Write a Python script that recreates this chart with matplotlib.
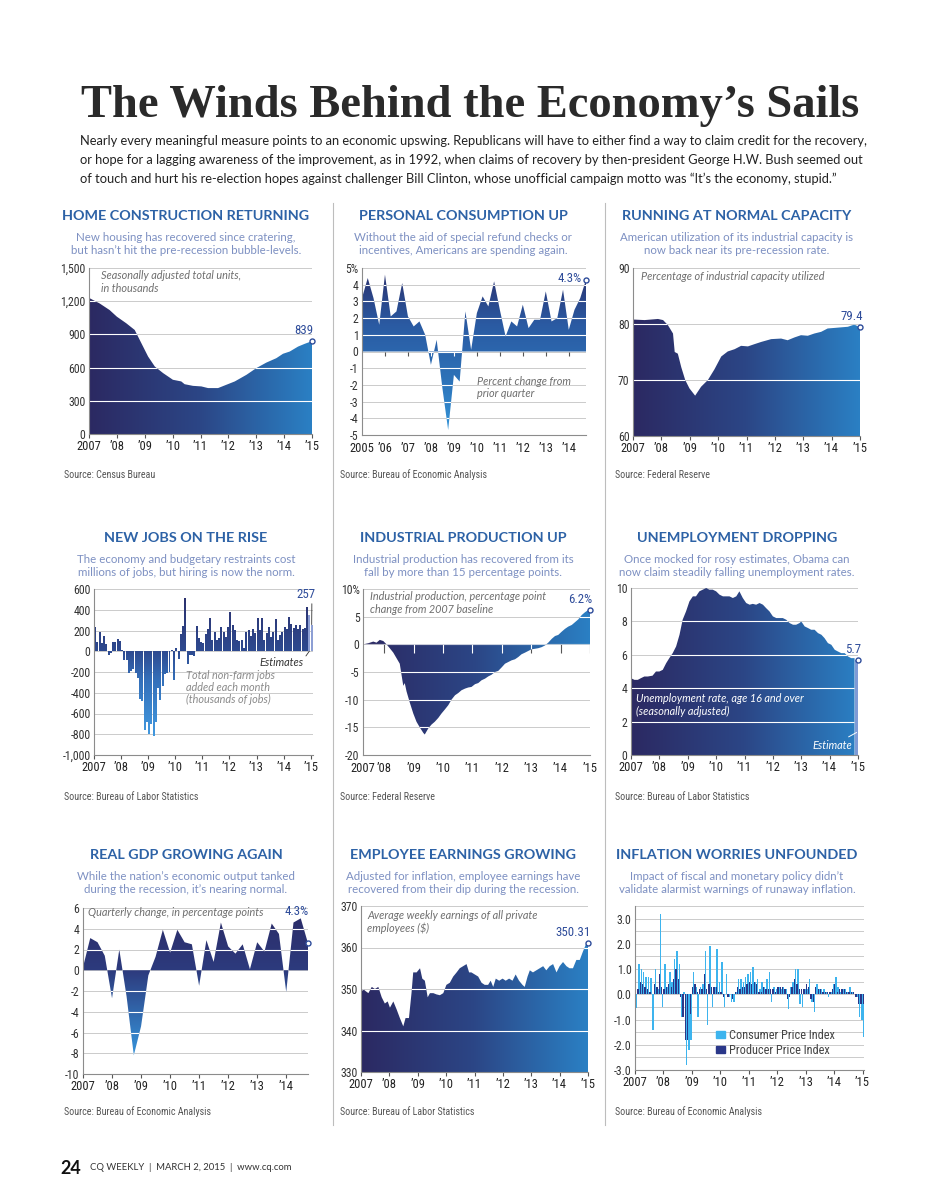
import numpy as np
import matplotlib
matplotlib.use("Agg")
import matplotlib.pyplot as plt
from matplotlib.colors import LinearSegmentedColormap
from matplotlib.path import Path
from matplotlib.lines import Line2D
from matplotlib.patches import Patch
from matplotlib import font_manager

# ---------------- data ----------------
year_ticks = [2007, 2008, 2009, 2010, 2011, 2012, 2013, 2014, 2015]
year_labels = ['2007', '\u201908', '\u201909', '\u201910', '\u201911', '\u201912', '\u201913', '\u201914', '\u201915']

# home construction (thousands of units)
home_years = [2007.00, 2007.38, 2007.74, 2008.00, 2008.34, 2008.64, 2008.88, 2009.12, 2009.36, 2009.66,
              2010.01, 2010.31, 2010.43, 2010.73, 2011.03, 2011.27, 2011.63, 2011.93, 2012.23, 2012.65,
              2013.00, 2013.36, 2013.72, 2013.96, 2014.20, 2014.50, 2014.74, 2015.00]
home_units = [1230, 1180, 1120, 1060, 1000, 940, 820, 700, 610, 550,
              490, 475, 450, 435, 430, 415, 415, 445, 475, 535,
              595, 645, 685, 725, 745, 790, 815, 839]

# personal consumption, quarterly % change 2005Q1..2014Q4
cons_years = [2005, 2006, 2007, 2008, 2009, 2010, 2011, 2012, 2013, 2014]
cons_labels = ['2005', '\u201906', '\u201907', '\u201908', '\u201909', '\u201910', '\u201911', '\u201912', '\u201913', '\u201914']
cons_change = [3.2, 4.4, 3.2, 1.6, 4.6, 2.1, 2.4, 4.1, 2.1, 1.5, 1.8, 1.0, -0.8, 0.7, -2.2, -4.7,
               -1.4, -1.8, 2.4, 0.1, 2.3, 3.3, 2.7, 4.2, 2.5, 0.9, 1.8, 1.5, 2.8, 1.4, 1.9, 1.9,
               3.6, 1.8, 2.0, 3.7, 1.3, 2.5, 3.2, 4.3]

# capacity utilization (%)
cap_years = [2007.00, 2007.41, 2007.88, 2008.06, 2008.23, 2008.41, 2008.47, 2008.58, 2008.70, 2008.84,
             2008.99, 2009.19, 2009.40, 2009.64, 2009.87, 2010.11, 2010.34, 2010.58, 2010.81, 2011.05,
             2011.28, 2011.52, 2011.87, 2012.22, 2012.45, 2012.69, 2012.92, 2013.16, 2013.39, 2013.63,
             2013.86, 2014.10, 2014.33, 2014.57, 2014.80, 2015.00]
cap_util = [80.8, 80.7, 80.9, 80.7, 79.8, 78.3, 75.0, 74.7, 72.3, 70.0,
            68.5, 67.2, 68.8, 70.0, 71.9, 74.2, 75.1, 75.5, 76.1, 76.0,
            76.4, 76.8, 77.3, 77.4, 77.1, 77.6, 78.0, 77.9, 78.3, 78.6,
            79.2, 79.3, 79.4, 79.5, 79.9, 79.4]

# non-farm payrolls, monthly Jan 2007 .. Jan 2015 (thousands)
jobs_added = [238, 89, 190, 79, 146, 73, -32, -16, 86, 86, 117, 95,
              15, -86, -86, -206, -190, -175, -206, -260, -460, -476, -762, -683,
              -794, -698, -819, -683, -350, -466, -333, -222, -206, -197, 10, -280,
              30, -70, 165, 248, 517, -127, -38, -32, -41, 248, 127, 89,
              79, 165, 213, 324, 105, 190, 111, 127, 229, 190, 137, 229,
              381, 254, 206, 111, 95, 111, 32, 181, 206, 143, 216, 175,
              317, 206, 324, 111, 175, 229, 133, 190, 311, 111, 159, 190,
              238, 213, 330, 263, 222, 254, 216, 254, 216, 222, 429, 349,
              257]
jobs_estimates = 2

# industrial production, change from 2007 baseline
ip_years = [2007.29, 2007.46, 2007.63, 2007.74, 2007.85, 2007.97,
            2008.08, 2008.19, 2008.31, 2008.42, 2008.53, 2008.65, 2008.70, 2008.76, 2008.87, 2008.99,
            2009.10, 2009.21, 2009.33, 2009.38, 2009.50, 2009.61, 2009.72, 2009.84, 2009.95,
            2010.06, 2010.18, 2010.29, 2010.41, 2010.52, 2010.63, 2010.75, 2010.86, 2010.97,
            2011.09, 2011.20, 2011.31, 2011.43, 2011.54, 2011.65, 2011.77, 2011.88, 2011.99,
            2012.11, 2012.22, 2012.33, 2012.45, 2012.56, 2012.67, 2012.79, 2012.90,
            2013.01, 2013.13, 2013.24, 2013.36, 2013.47, 2013.58, 2013.70, 2013.81, 2013.92,
            2014.04, 2014.15, 2014.26, 2014.38, 2014.49, 2014.60, 2014.72, 2014.83, 2014.94, 2015.00]
ip_change = [0.0, 0.2, 0.5, 0.3, 0.8, 0.6,
             0.0, -0.7, -1.5, -2.5, -3.5, -7.5, -7.0, -8.5, -10.5, -12.5,
             -14.0, -15.0, -16.0, -16.3, -15.2, -14.5, -14.0, -13.3, -12.5,
             -11.8, -11.0, -10.0, -9.2, -8.8, -8.3, -8.0, -7.8, -7.7,
             -7.2, -7.0, -6.5, -6.2, -5.8, -5.5, -5.0, -4.8, -4.2,
             -3.5, -3.2, -2.9, -2.7, -2.3, -1.8, -1.5, -1.2,
             -0.9, -0.8, -0.7, -0.5, -0.2, 0.3, 1.0, 1.5, 1.7,
             2.3, 2.8, 3.2, 3.5, 4.0, 4.5, 5.3, 5.8, 6.2, 6.2]
ip_start = 2007.28

# unemployment rate (%)
unemp_years = [2007.00, 2007.12, 2007.24, 2007.35, 2007.47, 2007.59, 2007.76, 2007.88,
               2008.00, 2008.12, 2008.24, 2008.35, 2008.47, 2008.59, 2008.71, 2008.82, 2008.94,
               2009.06, 2009.18, 2009.29, 2009.41, 2009.53, 2009.65, 2009.76, 2009.88,
               2010.00, 2010.12, 2010.24, 2010.35, 2010.47, 2010.59, 2010.71, 2010.82, 2010.94,
               2011.06, 2011.18, 2011.29, 2011.41, 2011.53, 2011.65, 2011.76, 2011.88,
               2012.00, 2012.12, 2012.24, 2012.35, 2012.47, 2012.59, 2012.71, 2012.82, 2012.94,
               2013.00, 2013.12, 2013.24, 2013.35, 2013.47, 2013.59, 2013.71, 2013.82, 2013.94,
               2014.06, 2014.18, 2014.29, 2014.41, 2014.53, 2014.65, 2014.76, 2014.88]
unemp_rate = [4.6, 4.5, 4.5, 4.6, 4.7, 4.7, 4.75, 5.0,
              5.0, 5.1, 5.5, 5.8, 6.1, 6.5, 7.2, 8.1, 8.6,
              9.2, 9.5, 9.5, 9.8, 9.9, 10.0, 9.9, 9.9,
              9.8, 9.6, 9.5, 9.5, 9.5, 9.4, 9.5, 9.8, 9.4,
              9.1, 9.0, 9.05, 9.0, 9.1, 9.0, 8.8, 8.6,
              8.3, 8.2, 8.2, 8.2, 8.1, 7.9, 7.8, 7.8, 7.9,
              8.0, 7.7, 7.6, 7.5, 7.5, 7.3, 7.2, 7.0, 6.7,
              6.6, 6.3, 6.2, 6.1, 6.1, 5.9, 5.8, 5.8]
unemp_est_year = 2015.0
unemp_est_rate = 5.7

# real GDP, quarterly change 2007Q1..2014Q4
gdp_labels = year_labels[:-1]
gdp_change = [0.3, 3.1, 2.7, 1.4, -2.7, 2.0, -2.5, -8.2, -5.4, -0.5, 1.3, 3.9, 1.7, 3.9, 2.7, 2.5,
              -1.5, 2.9, 0.8, 4.6, 2.3, 1.6, 2.5, 0.1, 2.7, 1.8, 4.5, 3.5, -2.1, 4.6, 5.0, 2.6]

# average weekly earnings ($)
earn_years = [2007.00, 2007.08, 2007.16, 2007.26, 2007.38, 2007.49, 2007.61, 2007.73, 2007.84, 2007.94,
              2008.02, 2008.14, 2008.26, 2008.37, 2008.49, 2008.57, 2008.69, 2008.78, 2008.84, 2008.96,
              2009.08, 2009.16, 2009.25, 2009.35, 2009.43, 2009.55, 2009.66, 2009.78, 2009.90,
              2010.01, 2010.13, 2010.25, 2010.37, 2010.48, 2010.60, 2010.72, 2010.81, 2010.89,
              2011.01, 2011.13, 2011.25, 2011.36, 2011.48, 2011.57, 2011.66, 2011.75, 2011.87, 2011.99,
              2012.10, 2012.22, 2012.34, 2012.45, 2012.57, 2012.69, 2012.77, 2012.87, 2012.95,
              2013.06, 2013.18, 2013.30, 2013.42, 2013.53, 2013.65, 2013.77, 2013.89,
              2014.00, 2014.12, 2014.24, 2014.35, 2014.47, 2014.59, 2014.71, 2014.82, 2014.94, 2015.00]
earn_weekly = [349, 350, 349.5, 349, 350.5, 350, 350.5, 348, 346.5, 347,
               345.5, 347, 345, 343, 341, 343, 343, 349, 354, 354,
               355, 352.5, 352, 348, 349, 349, 348.7, 348.5, 349,
               351, 351.5, 353, 354, 355, 355.5, 356, 354, 354,
               353.5, 353, 351.5, 351, 351, 352, 350.5, 352.5, 352, 352.5,
               352, 352.5, 352, 353.5, 352, 351, 350.5, 353, 354.5,
               354, 354.5, 355, 355.5, 354.5, 355.5, 356, 354,
               355.5, 356.5, 355.5, 355, 355, 357, 357, 359, 361, 361]

# inflation, monthly change Jan 2007 .. Jan 2015
infl_series = ['Consumer Price Index', 'Producer Price Index']
cpi_change = [-0.55, 1.2, 1.0, 0.9, 0.7, 0.7, 0.65, -1.4, 1.0, 0.2, 3.2, -0.5,
              1.2, 0.3, 0.9, 0.5, 1.4, 1.7, 1.2, -0.9, 0.1, -2.8, -2.2, -1.8,
              0.9, 0.3, -0.9, 0.3, 0.4, 1.7, -1.2, 1.9, -0.5, 0.3, 1.8, 0.5,
              1.3, -0.5, 0.8, -0.1, -0.3, -0.3, 0.1, 0.6, 0.6, 0.5, 0.7, 0.8,
              0.9, 1.1, 0.5, 0.6, 0.2, 0.5, 0.3, 0.6, 0.9, -0.3, 0.3, 0.2,
              0.3, 0.2, 0.3, 0.2, -0.6, 0.3, 0.5, 1.0, 1.0, -0.4, -0.5, 0.2,
              0.2, 0.6, -0.3, -0.7, 0.4, 0.2, 0.2, 0.2, 0.1, -0.1, 0.1, 0.4,
              0.7, 0.3, 0.1, 0.2, 0.2, 0.1, 0.3, 0.1, 0.0, -0.1, -0.9, -1.0,
              -1.7]
ppi_change = [0.4, 0.2, 0.5, 0.4, 0.3, 0.2, 0.1, 0.0, 0.4, 0.3, 0.8, 0.3,
              0.2, 0.3, 0.4, 0.3, 0.6, 1.0, 0.6, -0.1, -0.9, -1.8, -1.8, -0.8,
              0.3, 0.4, 0.1, 0.2, 0.2, 0.8, 0.2, 0.4, 0.3, 0.3, 0.3, 0.1,
              0.1, -0.1, 0.0, -0.1, 0.0, -0.2, 0.1, 0.3, 0.2, 0.3, 0.3, 0.4,
              0.5, 0.4, 0.5, 0.4, 0.1, 0.1, 0.3, 0.2, 0.2, 0.2, 0.2, 0.1,
              0.3, 0.3, 0.3, 0.2, -0.2, -0.1, 0.3, 0.6, 0.4, 0.2, 0.2, 0.2,
              0.4, 0.3, -0.2, -0.3, 0.3, 0.2, 0.2, 0.1, 0.1, 0.1, 0.1, 0.2,
              0.4, 0.1, 0.2, 0.2, 0.2, 0.1, 0.1, 0.1, 0.1, -0.1, -0.4, -0.4,
              -0.4]

intro_lines = [
    "Nearly every meaningful measure points to an economic upswing. Republicans will have to either find a way to claim credit for the recovery,",
    "or hope for a lagging awareness of the improvement, as in 1992, when claims of recovery by then-president George H.W. Bush seemed out",
    "of touch and hurt his re-election hopes against challenger Bill Clinton, whose unofficial campaign motto was \u201cIt\u2019s the economy, stupid.\u201d",
]

# ---------------- style ----------------
SANS = ['Lato', 'DejaVu Sans']
installed = {f.name for f in font_manager.fontManager.ttflist}
NARROW = [f for f in ['Roboto Condensed', 'Liberation Sans Narrow', 'Arial Narrow'] if f in installed]
NARROW += ['Liberation Sans', 'DejaVu Sans']
SERIF = ['Liberation Serif', 'DejaVu Serif']
TITLE_BLUE = '#2d62a6'
SUB_BLUE = '#7d90c2'
VAL_BLUE = '#2e4c9a'
GRID = '#cbcbcb'
NOTE = '#6e6e6e'
H_STOPS = ['#2b2962', '#2c4686', '#2a80c4']

W, H = 927, 1200
fig = plt.figure(figsize=(W / 100, H / 100), dpi=100)
fig.patch.set_facecolor('white')
renderer = fig.canvas.get_renderer()


def px_axes(x0, y0, x1, y1):
    return fig.add_axes([x0 / W, 1 - y1 / H, (x1 - x0) / W, (y1 - y0) / H])


def ftext(x, y, s, **kw):
    return fig.text(x / W, 1 - y / H, s, **kw)


def fit(t, width):
    w = t.get_window_extent(renderer).width
    t.set_fontsize(t.get_fontsize() * width / w)
    return t.get_fontsize()


def setup(ax, xlim, ylim, xticks, xlabels, yticks, ylabels, grid, xtick_len=3):
    ax.set_xlim(xlim)
    ax.set_ylim(ylim)
    for s in ('top', 'right'):
        ax.spines[s].set_visible(False)
    for s in ('left', 'bottom'):
        ax.spines[s].set_color('#8c8c8c')
        ax.spines[s].set_linewidth(0.8)
    ax.set_xticks(xticks, labels=xlabels, fontfamily=NARROW, fontsize=9, color='#222222')
    ax.set_yticks(yticks, labels=ylabels, fontfamily=NARROW, fontsize=8.5, color='#333333')
    ax.tick_params(axis='y', length=0, pad=2.5)
    ax.tick_params(axis='x', length=xtick_len, width=0.8, color='#555555', pad=1.5)
    for v in grid:
        ax.axhline(v, color=GRID, lw=0.7, zorder=0.5)


def gradient(ax, path, stops, horizontal):
    x0, x1 = ax.get_xlim()
    y0, y1 = ax.get_ylim()
    cmap = LinearSegmentedColormap.from_list('g', stops)
    ramp = np.linspace(0, 1, 256)
    img = ramp[None, :] if horizontal else ramp[:, None]
    im = ax.imshow(img, cmap=cmap, extent=(x0, x1, y0, y1), origin='lower',
                   aspect='auto', interpolation='bilinear', zorder=1)
    im.set_clip_path(path, transform=ax.transData)


def area(ax, x, y, base, stops, horizontal=True):
    poly = ax.fill_between(x, y, base, facecolor='none', edgecolor='none', linewidth=0)
    path = poly.get_paths()[0]
    gradient(ax, path, stops, horizontal)
    return path


def white_grid(ax, path, levels):
    for v in levels:
        ln = ax.axhline(v, color='white', lw=0.8, zorder=2)
        ln.set_clip_path(path, ax.transData)


def zero_ticks(ax, xs, length, path):
    ax.vlines(xs, -length, 0, color='#555555', lw=0.8, zorder=0.6)
    lc = ax.vlines(xs, -length, 0, color='white', lw=0.8, zorder=2)
    lc.set_clip_path(path, ax.transData)


def end_point(ax, x, y, label, offset, ha, va):
    ax.plot([x], [y], 'o', ms=3.6, mfc='white', mec=VAL_BLUE, mew=1, zorder=6, clip_on=False)
    ax.annotate(label, (x, y), xytext=offset, textcoords='offset points', ha=ha, va=va,
                fontfamily=NARROW, fontsize=9.3, color=VAL_BLUE, zorder=6)


def note(ax, x, y, s, color=NOTE, va='top'):
    ax.text(x, y, s, transform=ax.transAxes, ha='left', va=va, fontfamily=SANS,
            style='italic', fontsize=7.8, color=color, linespacing=1.15, zorder=5)


def panel_head(cx, y, title, sub):
    ftext(cx, y, title, ha='center', va='center', fontfamily=SANS, fontweight='bold',
          fontsize=10.4, color=TITLE_BLUE)
    ftext(cx, y + 28, sub, ha='center', va='center', fontfamily=SANS, fontsize=8.3,
          color=SUB_BLUE, linespacing=1.2)


def source(x, y, s):
    ftext(x, y, s, ha='left', va='center', fontfamily=NARROW, fontsize=7.2, color='#555555')


# ---------------- header ----------------
t = ftext(470, 106, "The Winds Behind the Economy\u2019s Sails", ha='center', va='center',
          fontfamily=SERIF, fontweight='bold', fontsize=36, color='#2a2a2a')
fit(t, 780)
first = ftext(80, 141, intro_lines[0], ha='left', va='center', fontfamily=SANS, fontsize=9.6, color='#222222')
size = fit(first, 797)
for i, line in enumerate(intro_lines[1:]):
    ftext(80, 160 + 18.5 * i, line, ha='left', va='center', fontfamily=SANS, fontsize=size, color='#222222')

# column separators
for xs in (333, 605):
    fig.add_artist(Line2D([xs / W, xs / W], [1 - 203 / H, 1 - 1125 / H], color='#bdbdbd', lw=0.8))

# ---------------- row 1 ----------------
panel_head(186, 216, 'HOME CONSTRUCTION RETURNING',
           'New housing has recovered since cratering,\nbut hasn\u2019t hit the pre-recession bubble-levels.')
ax = px_axes(89, 268, 312, 434)
setup(ax, (2007, 2015), (0, 1500), year_ticks, year_labels, [0, 300, 600, 900, 1200, 1500],
      ['0', '300', '600', '900', '1,200', '1,500'], [300, 600, 900, 1200, 1500])
p = area(ax, home_years, home_units, 0, H_STOPS)
white_grid(ax, p, [300, 600, 900, 1200])
end_point(ax, home_years[-1], home_units[-1], str(home_units[-1]), (1, 3), 'right', 'bottom')
note(ax, 0.055, 0.985, 'Seasonally adjusted total units,\nin thousands')
source(64, 475, 'Source: Census Bureau')

panel_head(463, 216, 'PERSONAL CONSUMPTION UP',
           'Without the aid of special refund checks or\nincentives, Americans are spending again.')
ax = px_axes(362, 268, 586, 435)
cons_x = cons_years[0] + 0.25 * np.arange(len(cons_change))
setup(ax, (cons_x[0], cons_x[-1]), (-5, 5), cons_years, cons_labels, list(range(-5, 6)),
      ['-5', '-4', '-3', '-2', '-1', '0', '1', '2', '3', '4', '5%'], list(range(-4, 6)), xtick_len=0)
ax.tick_params(axis='x', pad=5)
p = area(ax, cons_x, cons_change, 0, ['#3497db', '#2d72b8', '#2a5aa2', '#2b2e6a'], horizontal=False)
white_grid(ax, p, list(range(-4, 6)))
zero_ticks(ax, cons_years[1:], 0.25, p)
end_point(ax, cons_x[-1], cons_change[-1], '4.3%', (-3, 1), 'right', 'center')
note(ax, 0.515, 0.355, 'Percent change from\nprior quarter')
source(340, 475, 'Source: Bureau of Economic Analysis')

panel_head(737, 216, 'RUNNING AT NORMAL CAPACITY',
           'American utilization of its industrial capacity is\nnow back near its pre-recession rate.')
ax = px_axes(633, 268, 860, 436)
setup(ax, (2007, 2015), (60, 90), year_ticks, year_labels, [60, 70, 80, 90],
      ['60', '70', '80', '90'], [70, 80, 90])
p = area(ax, cap_years, cap_util, 60, H_STOPS)
white_grid(ax, p, [70, 80])
end_point(ax, cap_years[-1], cap_util[-1], '79.4', (2, 3), 'right', 'bottom')
note(ax, 0.035, 0.985, 'Percentage of industrial capacity utilized')
source(615, 475, 'Source: Federal Reserve')

# ---------------- row 2 ----------------
panel_head(186, 538, 'NEW JOBS ON THE RISE',
           'The economy and budgetary restraints cost\nmillions of jobs, but hiring is now the norm.')
ax = px_axes(94, 589, 313, 755)
month_x = 2007 + np.arange(len(jobs_added)) / 12
setup(ax, (2007, month_x[-1] + 1 / 12), (-1000, 600), year_ticks, year_labels,
      list(range(-1000, 601, 200)),
      ['-1,000', '-800', '-600', '-400', '-200', '0', '200', '400', '600'],
      list(range(-800, 601, 200)))
n_solid = len(jobs_added) - jobs_estimates
bars = ax.bar(month_x[:n_solid], jobs_added[:n_solid], width=0.88 / 12, align='edge',
              color='none', linewidth=0)
bar_path = Path.make_compound_path(*[b.get_path().transformed(b.get_patch_transform()) for b in bars])
gradient(ax, bar_path, [(0.0, '#47a7ec'), (0.45, '#3470ba'), (0.625, '#2e4a90'), (1.0, '#2b2d68')],
         horizontal=False)
ax.bar(month_x[n_solid:], jobs_added[n_solid:], width=0.88 / 12, align='edge',
       color='#8d9fd4', linewidth=0, zorder=3)
ax.annotate(str(jobs_added[-1]), (month_x[-1] + 0.035, jobs_added[-1]), xytext=(-4, 17),
            textcoords='offset points', ha='center', va='bottom', fontfamily=NARROW, fontsize=9.3,
            color=VAL_BLUE, arrowprops=dict(arrowstyle='-', lw=0.6, color='#333333',
                                            relpos=(0.8, 0), shrinkA=0, shrinkB=0))
ax.annotate('Estimates', (month_x[-2] + 0.03, 0), xytext=(0.955, 0.56), textcoords='axes fraction',
            ha='right', va='center', fontfamily=SANS, style='italic', fontsize=7.8, color='#333333',
            arrowprops=dict(arrowstyle='-', lw=0.6, color='#333333', relpos=(1.0, 0.7),
                            shrinkA=0, shrinkB=0))
note(ax, 0.42, 0.515, 'Total non-farm jobs\nadded each month\n(thousands of jobs)', color='#8a8a8a')
source(64, 797, 'Source: Bureau of Labor Statistics')

panel_head(463, 538, 'INDUSTRIAL PRODUCTION UP',
           'Industrial production has recovered from its\nfall by more than 15 percentage points.')
ax = px_axes(363, 589, 590, 755)
setup(ax, (ip_start, 2015), (-20, 10), [ip_start] + year_ticks[1:], year_labels,
      [-20, -15, -10, -5, 0, 5, 10], ['-20', '-15', '-10', '-5', '0', '5', '10%'],
      [-15, -10, -5, 0, 5, 10], xtick_len=0)
ax.tick_params(axis='x', pad=5)
p = area(ax, ip_years, ip_change, 0, H_STOPS)
white_grid(ax, p, [-15, -10, -5, 0, 5])
zero_ticks(ax, year_ticks[1:], 1.5, p)
end_point(ax, ip_years[-1], ip_change[-1], '6.2%', (2, 3), 'right', 'bottom')
note(ax, 0.03, 0.985, 'Industrial production, percentage point\nchange from 2007 baseline')
source(340, 797, 'Source: Federal Reserve')

panel_head(737, 538, 'UNEMPLOYMENT DROPPING',
           'Once mocked for rosy estimates, Obama can\nnow claim steadily falling unemployment rates.')
ax = px_axes(631, 588, 858, 755)
setup(ax, (2007, 2015), (0, 10), year_ticks, year_labels, [0, 2, 4, 6, 8, 10],
      ['0', '2', '4', '6', '8', '10'], [2, 4, 6, 8, 10])
p = area(ax, unemp_years, unemp_rate, 0, H_STOPS)
white_grid(ax, p, [2, 4, 6, 8])
ax.bar([unemp_est_year], [unemp_est_rate], width=unemp_years[-1] - unemp_est_year, align='edge',
       color='#7f9bd6', linewidth=0, zorder=2)
end_point(ax, unemp_est_year, unemp_est_rate, str(unemp_est_rate), (2, 3), 'right', 'bottom')
note(ax, 0.022, 0.37, 'Unemployment rate, age 16 and over\n(seasonally adjusted)', color='white')
ax.annotate('Estimate', (2014.95, 1.35), xytext=(0.975, 0.055), textcoords='axes fraction',
            ha='right', va='center', fontfamily=SANS, style='italic', fontsize=7.8, color='white',
            zorder=5, arrowprops=dict(arrowstyle='-', lw=0.7, color='white', relpos=(0.75, 1.0),
                                      shrinkA=1, shrinkB=0))
source(615, 797, 'Source: Bureau of Labor Statistics')

# ---------------- row 3 ----------------
panel_head(186, 855, 'REAL GDP GROWING AGAIN',
           'While the nation\u2019s economic output tanked\nduring the recession, it\u2019s nearing normal.')
ax = px_axes(83, 908, 308, 1074)
gdp_x = 2007 + 0.25 * np.arange(len(gdp_change))
setup(ax, (gdp_x[0], gdp_x[-1]), (-10, 6), year_ticks[:-1], gdp_labels, list(range(-10, 7, 2)),
      ['-10', '-8', '-6', '-4', '-2', '0', '2', '4', '6'], list(range(-8, 7, 2)))
p = area(ax, gdp_x, gdp_change, 0,
         [(0.0, '#3c9de2'), (0.2, '#3486cc'), (0.62, '#2d3b7e'), (1.0, '#2b2b66')], horizontal=False)
white_grid(ax, p, [-8, -6, -4, -2, 2, 4])
ax.plot([gdp_x[-1]], [gdp_change[-1]], 'o', ms=3.6, mfc='white', mec=VAL_BLUE, mew=1,
        zorder=6, clip_on=False)
ax.vlines(gdp_x[-1], gdp_change[-1] + 0.3, 5.1, color='#555555', lw=0.7, zorder=6)
ax.text(gdp_x[-1] + 0.02, 5.65, '4.3%', ha='right', va='center', fontfamily=NARROW,
        fontsize=9.3, color=VAL_BLUE, zorder=6)
note(ax, 0.022, 0.97, 'Quarterly change, in percentage points', va='center')
source(64, 1112, 'Source: Bureau of Economic Analysis')

panel_head(463, 855, 'EMPLOYEE EARNINGS GROWING',
           'Adjusted for inflation, employee earnings have\nrecovered from their dip during the recession.')
ax = px_axes(361, 906, 588, 1072)
setup(ax, (2007, 2015), (330, 370), year_ticks, year_labels, [330, 340, 350, 360, 370],
      ['330', '340', '350', '360', '370'], [340, 350, 360, 370])
p = area(ax, earn_years, earn_weekly, 330, H_STOPS)
white_grid(ax, p, [340, 350, 360])
end_point(ax, earn_years[-1], earn_weekly[-1], '350.31', (2, 3), 'right', 'bottom')
note(ax, 0.026, 0.975, 'Average weekly earnings of all private\nemployees ($)')
source(340, 1112, 'Source: Bureau of Labor Statistics')

panel_head(737, 855, 'INFLATION WORRIES UNFOUNDED',
           'Impact of fiscal and monetary policy didn\u2019t\nvalidate alarmist warnings of runaway inflation.')
ax = px_axes(635, 906, 864, 1070)
infl_x = 2007 + np.arange(len(cpi_change)) / 12
setup(ax, (2007, infl_x[-1] + 0.05), (-3, 3.5), year_ticks, year_labels, [-3, -2, -1, 0, 1, 2, 3],
      ['-3.0', '-2.0', '-1.0', '0.0', '1.0', '2.0', '3.0'], list(np.arange(-2.5, 3.6, 0.5)))
ax.bar(infl_x + 0.35 / 12, cpi_change, width=0.65 / 12, align='edge', color='#3db4ee',
       linewidth=0, zorder=2)
ax.bar(infl_x, ppi_change, width=0.55 / 12, align='edge', color='#2a3789', linewidth=0, zorder=2)
ax.legend(handles=[Patch(color='#3db4ee'), Patch(color='#2a3789')], labels=infl_series,
          loc='upper left', bbox_to_anchor=(0.355, 0.25), frameon=False, handlelength=0.7,
          handleheight=0.45, handletextpad=0.35, labelspacing=0.15, borderpad=0, borderaxespad=0,
          prop={'family': NARROW, 'size': 8.8}, labelcolor='#444444')
source(615, 1112, 'Source: Bureau of Economic Analysis')

# ---------------- footer ----------------
ftext(60, 1168, '24', ha='left', va='center', fontfamily=SANS, fontweight='bold', fontsize=13, color='#111111')
ftext(90, 1168, 'CQ WEEKLY  |  MARCH 2, 2015  |  www.cq.com', ha='left', va='center',
      fontfamily=SANS, fontsize=6.8, color='#333333')

fig.savefig('out.png', dpi=100, facecolor='white')
